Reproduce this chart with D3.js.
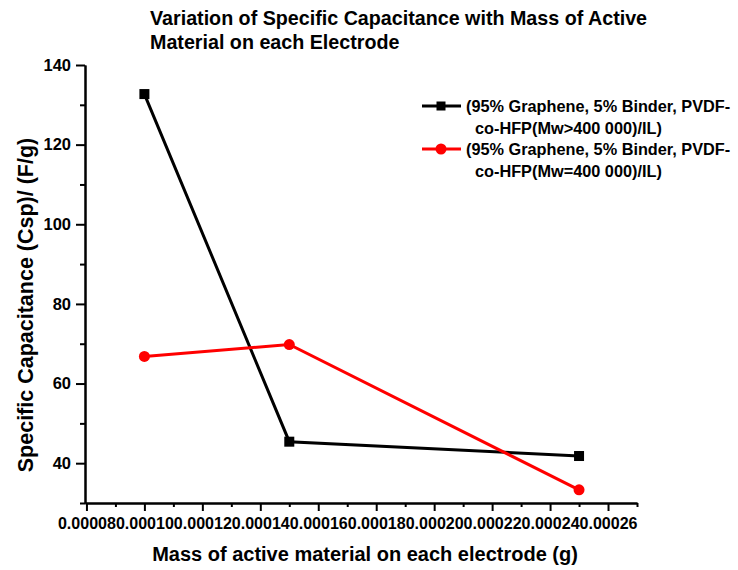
<!DOCTYPE html>
<html>
<head>
<script src="https://d3js.org/d3.v7.min.js"></script>
<style>
 body { margin: 0; background: #fff; }
 svg { display: block; font-family: "Liberation Sans", Arial, sans-serif; font-weight: bold; }
</style>
</head>
<body>
<svg width="738" height="570"></svg>
<script>
// data
const massValues = [0.0001, 0.00015, 0.00025];
const blackSeries = [132.7, 45.4, 41.8];
const redSeries = [66.8, 69.8, 33.3];
const seriesNames = [
  ["(95% Graphene, 5% Binder, PVDF-", "co-HFP(Mw>400 000)/IL)"],
  ["(95% Graphene, 5% Binder, PVDF-", "co-HFP(Mw=400 000)/IL)"]
];
const xMajorTicks = [0.00008, 0.0001, 0.00012, 0.00014, 0.00016, 0.00018, 0.0002, 0.00022, 0.00024, 0.00026];
const xMinorTicks = [0.00009, 0.00011, 0.00013, 0.00015, 0.00017, 0.00019, 0.00021, 0.00023, 0.00025, 0.00027];
const yMajorTicks = [40, 60, 80, 100, 120, 140];
const yMinorTicks = [30, 50, 70, 90, 110, 130];

const svg = d3.select("svg");

const x = d3.scaleLinear().domain([0.0000795, 0.00027]).range([85, 637]);
const y = d3.scaleLinear().domain([30, 140]).range([503, 65]);

// title
svg.append("text").attr("x", 150).attr("y", 25).attr("font-size", "19.7px")
   .text("Variation of Specific Capacitance with Mass of Active");
svg.append("text").attr("x", 150).attr("y", 49).attr("font-size", "19.7px")
   .text("Material on each Electrode");

// x axis
const xAxisG = svg.append("g").attr("transform", `translate(0,${y(30)})`);
xAxisG.append("g")
  .call(d3.axisBottom(x).tickValues(xMinorTicks).tickSize(4).tickSizeOuter(0).tickFormat(""));
xAxisG.append("g")
  .call(d3.axisBottom(x).tickValues(xMajorTicks).tickSize(8).tickSizeOuter(0).tickFormat(d3.format(".5f")))
  .call(g => g.selectAll("text")
    .attr("y", 14).attr("dy", "0.71em")
    .attr("font-size", "16.5px").attr("fill", "#000")
    .attr("textLength", 58).attr("lengthAdjust", "spacingAndGlyphs"));
xAxisG.selectAll("g").attr("font-family", null).attr("font-size", null);
xAxisG.selectAll("path, line").attr("stroke", "#000").attr("stroke-width", 2);

// y axis
const yAxisG = svg.append("g").attr("transform", `translate(${x(0.0000795)},0)`);
yAxisG.append("g")
  .call(d3.axisLeft(y).tickValues(yMinorTicks).tickSize(5).tickSizeOuter(0).tickFormat(""));
yAxisG.append("g")
  .call(d3.axisLeft(y).tickValues(yMajorTicks).tickSize(9).tickSizeOuter(0))
  .call(g => g.selectAll("text").attr("x", -14).attr("font-size", "16.5px").attr("fill", "#000"));
yAxisG.selectAll("g").attr("font-family", null).attr("font-size", null);
yAxisG.selectAll("path, line").attr("stroke", "#000").attr("stroke-width", 2);

// axis labels
svg.append("text").attr("x", 365).attr("y", 561).attr("text-anchor", "middle")
   .attr("font-size", "20px").text("Mass of active material on each electrode (g)");
svg.append("text").attr("transform", "translate(33,305) rotate(-90)").attr("text-anchor", "middle")
   .attr("font-size", "21.5px").text("Specific Capacitance (Csp)/ (F/g)");

// series
const line = d3.line().x(d => x(d[0])).y(d => y(d[1]));
const blackPts = massValues.map((m, i) => [m, blackSeries[i]]);
const redPts = massValues.map((m, i) => [m, redSeries[i]]);

svg.append("path").datum(blackPts).attr("d", line)
   .attr("fill", "none").attr("stroke", "#000").attr("stroke-width", 3);
svg.append("path").datum(redPts).attr("d", line)
   .attr("fill", "none").attr("stroke", "#ff0000").attr("stroke-width", 3);

svg.selectAll(".sq").data(blackPts).join("rect").attr("class", "sq")
   .attr("x", d => x(d[0]) - 5).attr("y", d => y(d[1]) - 5)
   .attr("width", 10).attr("height", 10).attr("fill", "#000");
svg.selectAll(".dot").data(redPts).join("circle").attr("class", "dot")
   .attr("cx", d => x(d[0])).attr("cy", d => y(d[1])).attr("r", 5.5).attr("fill", "#ff0000");

// legend
const legend = svg.append("g");
const legendRows = [
  { color: "#000", shape: "square", y: 106, names: seriesNames[0] },
  { color: "#ff0000", shape: "circle", y: 149, names: seriesNames[1] }
];
legendRows.forEach(r => {
  legend.append("line").attr("x1", 422).attr("x2", 461).attr("y1", r.y).attr("y2", r.y)
        .attr("stroke", r.color).attr("stroke-width", 3);
  if (r.shape === "square") {
    legend.append("rect").attr("x", 436.5).attr("y", r.y - 4.5).attr("width", 9).attr("height", 9).attr("fill", r.color);
  } else {
    legend.append("circle").attr("cx", 441).attr("cy", r.y).attr("r", 5.5).attr("fill", r.color);
  }
  legend.append("text").attr("x", 466).attr("y", r.y + 5.5).attr("font-size", "16.3px").text(r.names[0]);
  legend.append("text").attr("x", 475).attr("y", r.y + 27.5).attr("font-size", "16.3px").text(r.names[1]);
});
</script>
</body>
</html>
